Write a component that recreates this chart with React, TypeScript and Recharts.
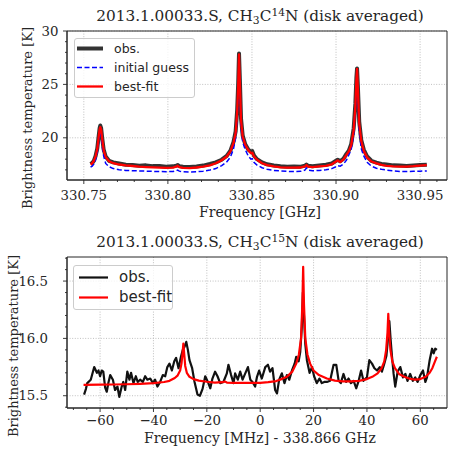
import React from "react";
import { LineChart, Line, XAxis, YAxis, CartesianGrid, ReferenceArea } from "recharts";

// ---- CH3C14N panel (GHz) ----
const freq14 = [
  330.754, 330.755, 330.756, 330.757, 330.758, 330.7588, 330.7594, 330.7598, 330.7603, 330.761,
  330.7618, 330.763, 330.765, 330.7675, 330.771, 330.775, 330.779, 330.783, 330.787, 330.791,
  330.795, 330.799, 330.803, 330.805, 330.8058, 330.8068, 330.809, 330.813, 330.817, 330.821,
  330.825, 330.8285, 330.832, 330.835, 330.8372, 330.839, 330.8403, 330.8412, 330.8418, 330.8423,
  330.8428, 330.8435, 330.8445, 330.846, 330.8478, 330.8494, 330.8502, 330.8512, 330.853, 330.856,
  330.859, 330.863, 330.867, 330.871, 330.875, 330.879, 330.8815, 330.8824, 330.8834, 330.886,
  330.89, 330.894, 330.8975, 330.9, 330.901, 330.9025, 330.9045, 330.9062, 330.9076, 330.909,
  330.9105, 330.9115, 330.9121, 330.9125, 330.913, 330.9138, 330.915, 330.9165, 330.9185, 330.921,
  330.924, 330.927, 330.93, 330.934, 330.938, 330.942, 330.946, 330.95, 330.954,
];
const obs14 = [
  17.55, 17.65, 17.85, 18.3, 19.0, 20.1, 20.9, 21.15, 20.9, 19.9,
  18.9, 18.25, 17.85, 17.7, 17.6, 17.48, 17.45, 17.38, 17.42, 17.35,
  17.36, 17.3, 17.33, 17.4, 17.45, 17.35, 17.3, 17.27, 17.32, 17.4,
  17.55, 17.7, 17.95, 18.3, 18.8, 19.6, 20.6, 22.6, 25.0, 27.9,
  25.5, 21.8, 20.2, 19.4, 18.9, 18.7, 18.75, 18.35, 18.0, 17.7,
  17.52, 17.4, 17.33, 17.28, 17.32, 17.3, 17.38, 17.5, 17.38, 17.33,
  17.4, 17.48, 17.6, 17.85, 17.95, 17.8, 18.05, 18.5, 18.8, 19.4,
  20.9, 23.2, 25.6, 26.5, 24.8, 21.5, 19.8, 18.9, 18.25, 17.85,
  17.68, 17.55, 17.5, 17.42, 17.4, 17.36, 17.4, 17.45, 17.48,
];
const guess14 = [
  17.25, 17.35, 17.55, 17.95, 18.6, 19.6, 20.3, 20.55, 20.3, 19.2,
  18.3, 17.6, 17.3, 17.12, 17.0, 16.95, 16.92, 16.9, 16.88, 16.86,
  16.84, 16.83, 16.84, 16.92, 16.98, 16.88, 16.82, 16.8, 16.82, 16.88,
  16.98, 17.12, 17.4, 17.75, 18.2, 18.95, 20.0, 21.8, 24.2, 26.9,
  24.6, 21.0, 19.6, 18.9, 18.3, 18.0, 18.05, 17.7, 17.45, 17.2,
  17.05, 16.95, 16.9, 16.86, 16.84, 16.86, 16.98, 17.18, 16.98, 16.92,
  16.95, 17.0, 17.12, 17.3, 17.4, 17.35, 17.55, 17.9, 18.4, 18.9,
  20.2, 22.6, 24.9, 25.6, 23.7, 20.6, 19.0, 18.3, 17.7, 17.35,
  17.15, 17.05, 16.98, 16.9, 16.85, 16.84, 16.86, 16.88, 16.9,
];
const fit14 = [
  17.5, 17.62, 17.85, 18.25, 18.95, 20.05, 20.8, 21.0, 20.75, 19.8,
  18.85, 18.2, 17.8, 17.62, 17.5, 17.42, 17.36, 17.3, 17.26, 17.23,
  17.21, 17.19, 17.2, 17.3, 17.38, 17.25, 17.18, 17.17, 17.22, 17.3,
  17.42, 17.62, 17.9, 18.25, 18.75, 19.5, 20.45, 22.4, 24.9, 27.8,
  25.3, 21.6, 20.1, 19.35, 18.85, 18.55, 18.6, 18.25, 17.95, 17.62,
  17.45, 17.32, 17.24, 17.21, 17.2, 17.22, 17.32, 17.45, 17.3, 17.26,
  17.32, 17.38, 17.52, 17.78, 17.88, 17.72, 17.98, 18.4, 18.72, 19.3,
  20.7, 23.0, 25.4, 26.45, 24.6, 21.3, 19.7, 18.8, 18.15, 17.78,
  17.6, 17.46, 17.38, 17.32, 17.3, 17.3, 17.34, 17.4, 17.45,
];
const xMajor14 = [330.75, 330.8, 330.85, 330.9, 330.95];
const xMinor14 = [330.76, 330.77, 330.78, 330.79, 330.81, 330.82, 330.83, 330.84, 330.86, 330.87, 330.88, 330.89, 330.91, 330.92, 330.93, 330.94, 330.96];
const yMajor14 = [20, 25, 30];
const yMinor14 = [17, 18, 19, 21, 22, 23, 24, 26, 27, 28, 29];

// ---- CH3C15N panel (MHz offset from 338.866 GHz) ----
const obsFreq15 = [
  -66.0, -65.3, -64.8, -63.5, -62.2, -61.2, -60.6, -60.0, -59.4, -58.8,
  -58.1, -57.5, -56.9, -56.2, -55.2, -54.4, -53.5, -52.8, -51.9, -51.3,
  -50.6, -49.8, -49.0, -48.4, -47.5, -46.6, -45.9, -45.0, -44.0, -43.1,
  -42.3, -41.2, -40.2, -39.4, -38.5, -37.5, -36.5, -35.6, -34.8, -34.0,
  -33.1, -32.2, -31.5, -30.6, -29.7, -29.0, -28.3, -27.7, -27.1, -26.5,
  -25.5, -24.6, -23.5, -22.6, -21.6, -20.6, -19.6, -18.7, -17.9, -16.9,
  -16.0, -15.0, -13.8, -12.5, -11.9, -10.9, -10.0, -9.4, -8.4, -7.5,
  -6.6, -5.6, -4.6, -3.7, -2.9, -1.9, -1.2, -0.4, 0.6, 1.9,
  2.9, 3.7, 4.6, 5.6, 6.3, 7.1, 8.1, 9.1, 10.0, 10.9,
  11.9, 12.9, 13.5, 14.4, 15.0, 15.6, 16.0, 16.4, 16.9, 17.5,
  18.5, 19.4, 20.2, 21.2, 22.2, 23.1, 24.0, 25.0, 26.2, 27.5,
  28.5, 29.4, 30.2, 31.2, 32.2, 33.1, 34.0, 35.0, 36.0, 36.9,
  37.8, 38.7, 40.0, 40.9, 41.9, 42.8, 43.8, 44.8, 45.6, 46.5,
  47.3, 47.9, 48.4, 48.9, 49.4, 50.0, 50.6, 51.5, 52.5, 53.5,
  54.4, 55.2, 56.2, 57.2, 58.1, 59.0, 60.0, 61.0, 61.9, 62.5,
  63.5, 64.4, 65.0, 65.6, 66.2,
];
const obs15 = [
  15.51, 15.56, 15.61, 15.64, 15.75, 15.7, 15.72, 15.67, 15.72, 15.71,
  15.57, 15.535, 15.61, 15.68, 15.64, 15.55, 15.58, 15.49, 15.58, 15.62,
  15.55, 15.71, 15.64, 15.7, 15.61, 15.67, 15.62, 15.64, 15.62, 15.67,
  15.64, 15.65, 15.61, 15.64, 15.58, 15.62, 15.68, 15.67, 15.75, 15.78,
  15.72, 15.8, 15.83, 15.74, 15.84, 15.9, 15.93, 15.97, 15.9, 15.81,
  15.74, 15.62, 15.51, 15.5, 15.56, 15.67, 15.62, 15.565, 15.65, 15.71,
  15.67, 15.61, 15.62, 15.695, 15.77, 15.68, 15.61, 15.695, 15.64, 15.71,
  15.64, 15.695, 15.75, 15.64, 15.62, 15.58, 15.665, 15.72, 15.65, 15.75,
  15.77, 15.71, 15.74, 15.55, 15.52, 15.64, 15.695, 15.61, 15.68, 15.64,
  15.72, 15.78, 15.84, 15.8, 15.88, 16.1, 16.4, 16.2, 15.95, 15.81,
  15.7, 15.75, 15.67, 15.61, 15.65, 15.61, 15.62, 15.62, 15.63, 15.77,
  15.77, 15.63, 15.61, 15.69, 15.62, 15.65, 15.61, 15.63, 15.565, 15.63,
  15.72, 15.63, 15.66, 15.81, 15.78, 15.74, 15.72, 15.75, 15.71, 15.78,
  15.85, 16.0, 16.15, 15.98, 15.84, 15.69, 15.58, 15.71, 15.75, 15.66,
  15.69, 15.63, 15.69, 15.63, 15.66, 15.62, 15.68, 15.72, 15.62, 15.66,
  15.81, 15.91, 15.87, 15.91, 15.9,
];
const fitFreq15 = [
  -66.2, -60, -55, -50, -45, -40, -36, -34, -32, -31,
  -30, -29.5, -29.1, -28.8, -28.5, -28.1, -27.5, -26.5, -25, -23,
  -20, -17, -14, -13.3, -12.5, -10, -6, -3, 0, 3,
  6, 8, 10, 12, 13.5, 14.5, 15.3, 15.8, 16.1, 16.4,
  16.9, 17.7, 18.7, 20, 22, 25, 28, 31, 34, 37,
  40, 42, 44, 45.5, 46.5, 47.2, 47.7, 48.0, 48.3, 48.8,
  49.5, 50.5, 52, 54, 56, 58, 60, 62, 63.5, 64.5,
  65.5, 66.2,
];
const fit15 = [
  15.595, 15.597, 15.598, 15.6, 15.604, 15.61, 15.62, 15.63, 15.655, 15.675,
  15.72, 15.78, 15.87, 15.955, 15.87, 15.76, 15.7, 15.665, 15.645, 15.632,
  15.622, 15.615, 15.618, 15.625, 15.615, 15.612, 15.612, 15.612, 15.612, 15.618,
  15.628, 15.645, 15.665, 15.71, 15.78, 15.86, 16.0, 16.3, 16.625, 16.3,
  16.0, 15.86, 15.78, 15.72, 15.68, 15.65, 15.632, 15.625, 15.625, 15.63,
  15.645, 15.665, 15.695, 15.74, 15.8, 15.9, 16.05, 16.215, 16.05, 15.9,
  15.8, 15.74, 15.69, 15.665, 15.648, 15.64, 15.645, 15.665, 15.7, 15.74,
  15.8, 15.84,
];
const xMajor15 = [-60, -40, -20, 0, 20, 40, 60];
const xMinor15 = [-70, -65, -55, -50, -45, -35, -30, -25, -15, -10, -5, 5, 10, 15, 25, 30, 35, 45, 50, 55, 65];
const yMajor15 = [15.5, 16.0, 16.5];
const yMinor15 = [15.4, 15.6, 15.7, 15.8, 15.9, 16.1, 16.2, 16.3, 16.4, 16.6, 16.7];

const top14 = freq14.map((f, i) => ({ f, obs: obs14[i], guess: guess14[i], fit: fit14[i] }));
const obsRows15 = obsFreq15.map((f, i) => ({ f, y: obs15[i] }));
const fitRows15 = fitFreq15.map((f, i) => ({ f, y: fit15[i] }));

const INK = "#262626";
const SERIF = "'DejaVu Serif', serif";
const SANS = "'DejaVu Sans', sans-serif";

const minus = (v: number) => (v < 0 ? "\u2212" + Math.abs(v) : String(v));

function xTick(majors: number[], fmt: (v: number) => string, dy: number) {
  return (p: any) => {
    const v = p.payload.value;
    const major = majors.includes(v);
    return (
      <g>
        <line x1={p.x} x2={p.x} y1={p.y} y2={p.y + (major ? 4 : 2)} stroke={INK} strokeWidth={0.9} />
        {major && (
          <text x={p.x} y={p.y + dy} textAnchor="middle" fontSize={13.3} fontFamily={SERIF} fill={INK}>
            {fmt(v)}
          </text>
        )}
      </g>
    );
  };
}

function yTick(majors: number[], fmt: (v: number) => string, dx: number) {
  return (p: any) => {
    const v = p.payload.value;
    const major = majors.includes(v);
    return (
      <g>
        <line x1={p.x} x2={p.x - (major ? 4 : 2)} y1={p.y} y2={p.y} stroke={INK} strokeWidth={0.9} />
        {major && (
          <text x={p.x - dx} y={p.y + 4.6} textAnchor="end" fontSize={13.3} fontFamily={SERIF} fill={INK}>
            {fmt(v)}
          </text>
        )}
      </g>
    );
  };
}

const abs = (s: React.CSSProperties): React.CSSProperties => ({ position: "absolute", ...s });

function Title({ top, iso }: { top: number; iso: string }) {
  return (
    <div style={abs({ left: 67, width: 386, top, textAlign: "center", fontFamily: SERIF, fontSize: 15.3, lineHeight: "18px", color: INK, whiteSpace: "nowrap" })}>
      2013.1.00033.S, CH
      <span style={{ fontSize: "0.7em", position: "relative", top: "0.3em" }}>3</span>C
      <span style={{ fontSize: "0.7em", position: "relative", top: "-0.45em" }}>{iso}</span>N (disk averaged)
    </div>
  );
}

function YLabel({ cx, cy }: { cx: number; cy: number }) {
  return (
    <div style={abs({ left: cx - 110, top: cy - 9, width: 220, height: 18, lineHeight: "18px", textAlign: "center", transform: "rotate(-90deg)", fontFamily: SERIF, fontSize: 13, color: INK, whiteSpace: "nowrap" })}>
      Brightness temperature [K]
    </div>
  );
}

function XLabel({ cy, text }: { cy: number; text: string }) {
  return (
    <div style={abs({ left: 60, width: 400, top: cy - 9, height: 18, lineHeight: "18px", textAlign: "center", fontFamily: SERIF, fontSize: 14, color: INK, whiteSpace: "nowrap" })}>
      {text}
    </div>
  );
}

type Entry = { label: string; color: string; width: number; dash?: string };

function LegendBox({ left, top, width, height, entries, fontSize, lineX0, lineX1, textX, rowY }: {
  left: number; top: number; width: number; height: number; entries: Entry[]; fontSize: number;
  lineX0: number; lineX1: number; textX: number; rowY: number[];
}) {
  return (
    <div style={abs({ left, top, width, height, border: "1px solid #cccccc", borderRadius: 3, background: "rgba(255,255,255,0.8)", boxSizing: "border-box" })}>
      <svg width={width} height={height} style={{ position: "absolute", left: -1, top: -1 }}>
        {entries.map((e, i) => (
          <line key={e.label} x1={lineX0} x2={lineX1} y1={rowY[i]} y2={rowY[i]} stroke={e.color} strokeWidth={e.width} strokeDasharray={e.dash} />
        ))}
      </svg>
      {entries.map((e, i) => (
        <div key={e.label} style={abs({ left: textX - 1, top: rowY[i] - 1 - fontSize * 0.62, fontFamily: SANS, fontSize, lineHeight: `${Math.round(fontSize * 1.2)}px`, color: INK, whiteSpace: "nowrap" })}>
          {e.label}
        </div>
      ))}
    </div>
  );
}

export default function App() {
  return (
    <div style={abs({ left: 0, top: 0, width: 449, height: 449, background: "#fff", overflow: "hidden" })}>
      {/* upper panel */}
      <div style={abs({ left: 0, top: 0 })}>
        <LineChart width={449} height={225} data={top14} margin={{ top: 31, right: 2, bottom: 15, left: 0 }}>
          <CartesianGrid stroke="#b0b0b0" strokeWidth={0.8} strokeDasharray="1 1.6" verticalValues={xMajor14} horizontalValues={yMajor14} />
          <XAxis type="number" dataKey="f" domain={[330.74, 330.966]} allowDataOverflow ticks={[...xMajor14, ...xMinor14]} interval={0}
            tickLine={false} tickSize={0} tickMargin={0} axisLine={{ stroke: INK }} height={30} tick={xTick(xMajor14, (v) => v.toFixed(2), 19.5)} />
          <YAxis type="number" domain={[16.05, 30]} allowDataOverflow ticks={[...yMajor14, ...yMinor14]} interval={0}
            tickLine={false} tickSize={0} tickMargin={0} axisLine={{ stroke: INK }} width={67} tick={yTick(yMajor14, (v) => String(v), 8.5)} />
          <ReferenceArea x1={330.74} x2={330.966} y1={16.05} y2={30} fill="none" stroke={INK} strokeWidth={1} />
          <Line dataKey="obs" stroke="#333333" strokeWidth={4} dot={false} isAnimationActive={false} strokeLinejoin="round" />
          <Line dataKey="guess" stroke="#0000ff" strokeWidth={1.5} strokeDasharray="5 2.5" dot={false} isAnimationActive={false} />
          <Line dataKey="fit" stroke="#ff0000" strokeWidth={2.3} dot={false} isAnimationActive={false} strokeLinejoin="round" />
        </LineChart>
      </div>
      <Title top={7} iso="14" />
      <YLabel cx={27.5} cy={118} />
      <XLabel cy={212} text="Frequency [GHz]" />
      <LegendBox left={74} top={38} width={121} height={60} fontSize={12.5} lineX0={3} lineX1={29} textX={40} rowY={[10.5, 29.5, 48.5]}
        entries={[
          { label: "obs.", color: "#333333", width: 4 },
          { label: "initial guess", color: "#0000ff", width: 1.5, dash: "5 2.5" },
          { label: "best-fit", color: "#ff0000", width: 2.3 },
        ]} />

      {/* lower panel */}
      <div style={abs({ left: 0, top: 225 })}>
        <LineChart width={449} height={224} margin={{ top: 32, right: 2, bottom: 11, left: 0 }}>
          <CartesianGrid stroke="#b0b0b0" strokeWidth={0.8} strokeDasharray="1 1.6" verticalValues={xMajor15} horizontalValues={yMajor15} />
          <XAxis type="number" dataKey="f" domain={[-72.4, 70.0]} allowDataOverflow ticks={[...xMajor15, ...xMinor15]} interval={0}
            tickLine={false} tickSize={0} tickMargin={0} axisLine={{ stroke: INK }} height={30} tick={xTick(xMajor15, minus, 17)} />
          <YAxis type="number" domain={[15.393, 16.71]} allowDataOverflow ticks={[...yMajor15, ...yMinor15]} interval={0}
            tickLine={false} tickSize={0} tickMargin={0} axisLine={{ stroke: INK }} width={67} tick={yTick(yMajor15, (v) => v.toFixed(1), 19)} />
          <ReferenceArea x1={-72.4} x2={70.0} y1={15.393} y2={16.71} fill="none" stroke={INK} strokeWidth={1} />
          <Line data={obsRows15} dataKey="y" name="obs." stroke="#111111" strokeWidth={2.2} dot={false} isAnimationActive={false} strokeLinejoin="round" />
          <Line data={fitRows15} dataKey="y" name="best-fit" stroke="#ff0000" strokeWidth={2.2} dot={false} isAnimationActive={false} strokeLinejoin="round" />
        </LineChart>
      </div>
      <Title top={233} iso="15" />
      <YLabel cx={14} cy={346} />
      <XLabel cy={438} text="Frequency [MHz] - 338.866 GHz" />
      <LegendBox left={73} top={265} width={100} height={45} fontSize={15} lineX0={6} lineX1={35} textX={46} rowY={[12.5, 32.5]}
        entries={[
          { label: "obs.", color: "#111111", width: 2.2 },
          { label: "best-fit", color: "#ff0000", width: 2.2 },
        ]} />
    </div>
  );
}
